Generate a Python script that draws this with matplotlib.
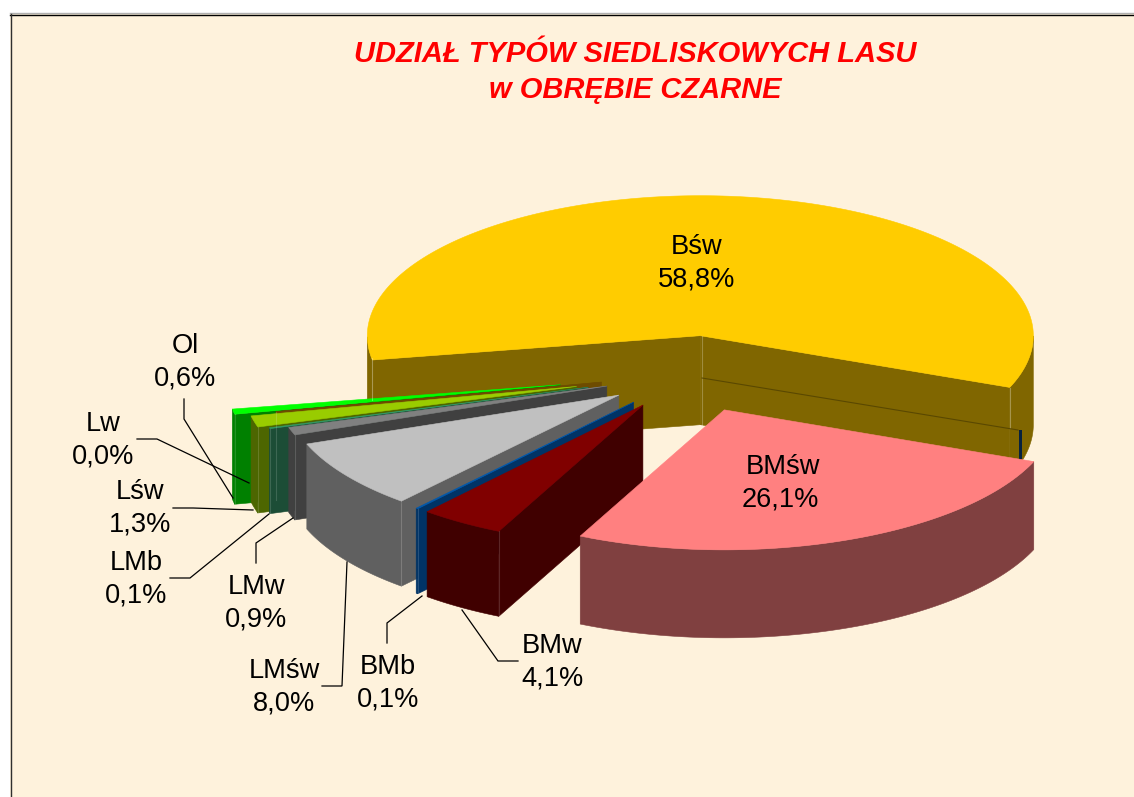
#!/usr/bin/python3
# coding: utf-8

import matplotlib as mpl
mpl.use('Agg')
import matplotlib.pyplot as plt
from matplotlib.patches import Polygon, Rectangle
import numpy as np

plt.rcParams['font.family'] = ['Liberation Sans', 'DejaVu Sans']

names = ['Bśw', 'BMśw', 'BMw', 'BMb', 'LMśw', 'LMw', 'LMb', 'Lśw', 'Lw', 'Ol']
values = [58.8, 26.1, 4.1, 0.1, 8.0, 0.9, 0.1, 1.3, 0.0, 0.6]
explode = [0.275, 0.275, 0.265, 0.265, 0.264, 0.267, 0.323, 0.355, 0.275, 0.40]
depths = [89, 88, 85, 85, 85, 85, 85, 86, 88, 90]
top_colors = ['#FFCC00', '#FF8080', '#800000', '#0058AC', '#C0C0C0',
              '#808080', '#339966', '#99CC00', '#6E4C00', '#00FF00']
side_colors = ['#806600', '#804040', '#400000', '#003366', '#606060',
               '#404040', '#1C4D36', '#4D6600', '#6E4C00', '#008000']

# centre of the label text in pixels, name line then percent line
label_pos = [(697, 247), (783, 467), (552, 646), (388, 667), (284, 671),
             (256, 587), (136, 563), (140, 492), (103, 424), (185, 346)]
leaders = {
    'BMw': [(518, 661), (498, 661), (462, 610)],
    'BMb': [(387, 643), (387, 623), (422, 596)],
    'LMśw': [(322, 686), (342, 686), (347, 562)],
    'LMw': [(256, 563), (256, 543), (293, 518)],
    'LMb': [(170, 578), (190, 578), (269, 514)],
    'Lśw': [(173, 508), (193, 508), (253, 510)],
    'Lw': [(137, 439), (157, 439), (249, 483)],
    'Ol': [(184, 399), (184, 419), (233, 498)],
}

CX, CY = 691, 374
RX, RY = 333, 140
START = 190.0
BG = '#FEF2DC'


def to_xy(ang, r, ox=0, oy=0):
    a = np.radians(ang)
    return ox + CX + r * RX * np.cos(a), oy + CY - r * RY * np.sin(a)


def draw_slice(ax, a0, a1, d, depth, top, side):
    # a0 > a1, angles run clockwise
    mid = (a0 + a1) / 2
    ox, oy = to_xy(mid, d)
    ox, oy = ox - CX, oy - CY
    px, py = to_xy(0, 0, ox, oy)
    kw = dict(lw=0.4, joinstyle='round')

    # outer wall, only the parts on the lower half of the ellipse
    n = max(int(abs(a0 - a1) * 2), 2)
    arc = np.linspace(a0, a1, n)
    idx = np.where(np.sin(np.radians(arc)) <= 0)[0]
    if len(idx) > 1:
        for run in np.split(idx, np.where(np.diff(idx) > 1)[0] + 1):
            if len(run) < 2:
                continue
            x, y = to_xy(arc[run], 1, ox, oy)
            pts = list(zip(x, y)) + list(zip(x[::-1], y[::-1] + depth))
            ax.add_patch(Polygon(pts, fc=side, ec=side, **kw))

    # cut faces which look at the viewer
    for ang, show in ((a0, np.cos(np.radians(a0)) < 0), (a1, np.cos(np.radians(a1)) > 0)):
        if show:
            ex, ey = to_xy(ang, 1, ox, oy)
            pts = [(px, py), (ex, ey), (ex, ey + depth), (px, py + depth)]
            ax.add_patch(Polygon(pts, fc=side, ec=side, **kw))
            if top != top_colors[0]:
                ax.plot([ex, ex], [ey, ey + depth], color='white', alpha=0.15, lw=0.8)

    x, y = to_xy(arc, 1, ox, oy)
    pts = [(px, py)] + list(zip(x, y))
    ax.add_patch(Polygon(pts, fc=top, ec=top, **kw))


def main():
    fig = plt.figure(figsize=(11.34, 7.97), dpi=100, facecolor='white')
    ax = fig.add_axes([0, 0, 1, 1])
    ax.set_xlim(0, 1134)
    ax.set_ylim(797, 0)
    ax.axis('off')

    ax.add_patch(Rectangle((10, 14), 1130, 790, fc=BG, ec='none'))
    ax.plot([10, 1134], [13, 13], color='#b0b0b0', lw=1)
    ax.plot([10, 1134], [14.5, 14.5], color='black', lw=1)
    ax.plot([10.5, 10.5], [14, 797], color='#303030', lw=1)

    ang = np.r_[START, START - np.cumsum(values) * 3.6]
    order = [0, 9, 8, 7, 6, 5, 4, 3, 2, 1]
    for i in order:
        draw_slice(ax, ang[i], ang[i + 1], explode[i], depths[i], top_colors[i], side_colors[i])
        if i == 0:
            # seams and the small dark bar on the wall of the big slice
            ax.plot([702, 702], [336, 425], color='white', alpha=0.25, lw=0.8)
            ax.plot([1010, 1010], [388, 428], color='white', alpha=0.3, lw=0.8)
            ax.plot([372, 372], [358, 400], color='white', alpha=0.3, lw=0.8)
            ax.plot([702, 1018], [378, 430], color='#5A4800', lw=0.8)
            ax.add_patch(Rectangle((1018.5, 430), 3, 29, fc='#06213F', ec='none'))

    for pts in leaders.values():
        xs, ys = zip(*pts)
        ax.plot(xs, ys, color='black', lw=0.9, solid_joinstyle='miter')

    for name, val, (lx, ly) in zip(names, values, label_pos):
        pct = f'{val:.1f}'.replace('.', ',') + '%'
        ax.text(lx, ly, name, ha='center', va='center', fontsize=19.6, color='black')
        ax.text(lx - 3 if name == 'BMśw' else lx, ly + 32.5, pct, ha='center', va='center',
                fontsize=19.6, color='black')

    ax.text(635, 54, 'UDZIAŁ TYPÓW SIEDLISKOWYCH LASU', ha='center', va='center',
            fontsize=21, color='#FF0000', fontweight='bold', fontstyle='italic')
    ax.text(635, 90, 'w OBRĘBIE CZARNE', ha='center', va='center',
            fontsize=21, color='#FF0000', fontweight='bold', fontstyle='italic')

    fig.savefig('out.png', dpi=100, facecolor='white')


if __name__ == "__main__":
    main()
